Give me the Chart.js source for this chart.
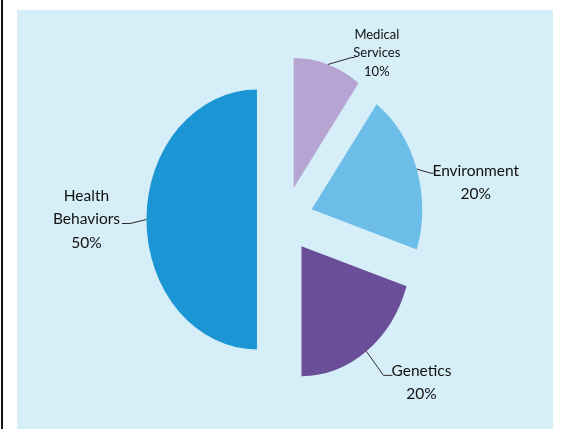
<!DOCTYPE html>
<html>
<head>
<meta charset="utf-8">
<script src="https://cdn.jsdelivr.net/npm/chart.js@4.4.1/dist/chart.umd.min.js"></script>
<style>
  html, body { margin: 0; padding: 0; background: #ffffff; }
  body { width: 564px; height: 429px; position: relative; overflow: hidden; }
  #edge { position: absolute; left: 1px; top: 0; width: 2px; height: 429px; background: #111; }
  #panel { position: absolute; left: 17px; top: 10px; width: 536px; height: 419px; background: #d6eef7; }
  canvas { display: block; }
</style>
</head>
<body>
<div id="edge"></div>
<div id="panel"><canvas id="c" width="536" height="419"></canvas></div>
<script>
// ---- data ----
const categories = ['Medical Services', 'Environment', 'Genetics', 'Health Behaviors'];
const categoryLines = [['Medical', 'Services'], ['Environment'], ['Genetics'], ['Health', 'Behaviors']];
const shares = [10, 20, 20, 50];

// ---- style ----
const colors = ['#b6a4d3', '#6dbde9', '#6a4f98', '#1b95d4'];
const EXPLODE = 33;      // px each slice is pulled out
const SQUISH_X = 0.85;   // horizontal compression of the pie
const labelStyle = [
  // elbow, tail end (relative to leader start on arc edge), text centre, line spacing, font size
  { elbow: [24, -7], tail: [27, -7], text: [49, -30], gap: 18.5, size: 13 },
  { elbow: [14, 4], tail: [17, 4], text: [59, 2], gap: 22.5, size: 15.5 },
  { elbow: [17, 24], tail: [26, 24], text: [55, 20], gap: 23, size: 15.5 },
  { elbow: [-16.5, 4], tail: [-24.5, 4], text: [-60, -24], gap: 23.5, size: 15.5 }
];

function transformFor(arc) {
  const mid = (arc.startAngle + arc.endAngle) / 2;
  return { mid, ex: Math.cos(mid) * EXPLODE, ey: Math.sin(mid) * EXPLODE };
}

const explodePlugin = {
  id: 'explode',
  beforeDatasetsDraw(chart) {
    chart.getDatasetMeta(0).data.forEach((arc) => {
      if (arc._exploded) return;
      const orig = arc.draw.bind(arc);
      arc.draw = function (ctx, area) {
        const t = transformFor(this);
        ctx.save();
        ctx.translate(this.x, this.y);
        ctx.scale(SQUISH_X, 1);
        ctx.translate(-this.x, -this.y);
        ctx.translate(t.ex, t.ey);
        orig(ctx, area);
        ctx.restore();
      };
      arc._exploded = true;
    });
  }
};

const labelPlugin = {
  id: 'pieLabels',
  afterDatasetsDraw(chart) {
    const ctx = chart.ctx;
    const meta = chart.getDatasetMeta(0);
    meta.data.forEach((arc, i) => {
      const t = transformFor(arc);
      const r = arc.outerRadius;
      const sx = arc.x + SQUISH_X * (t.ex + Math.cos(t.mid) * r);
      const sy = arc.y + t.ey + Math.sin(t.mid) * r;
      const st = labelStyle[i];
      ctx.save();
      ctx.strokeStyle = '#2a2a2a';
      ctx.lineWidth = 1;
      ctx.beginPath();
      ctx.moveTo(sx, sy);
      ctx.lineTo(sx + st.elbow[0], sy + st.elbow[1]);
      ctx.lineTo(sx + st.tail[0], sy + st.tail[1]);
      ctx.stroke();
      const lines = categoryLines[i].concat([shares[i] + '%']);
      ctx.fillStyle = '#111111';
      ctx.font = st.size + 'px Lato, "Open Sans", sans-serif';
      ctx.textAlign = 'center';
      ctx.textBaseline = 'middle';
      lines.forEach((ln, k) => {
        ctx.fillText(ln, sx + st.text[0], sy + st.text[1] + k * st.gap);
      });
      ctx.restore();
    });
  }
};

new Chart(document.getElementById('c'), {
  type: 'pie',
  data: {
    labels: categories,
    datasets: [{ data: shares, backgroundColor: colors, borderWidth: 0 }]
  },
  options: {
    responsive: false,
    animation: false,
    radius: 130,
    layout: { padding: 0 },
    plugins: { legend: { display: false }, tooltip: { enabled: false } }
  },
  plugins: [explodePlugin, labelPlugin]
});
</script>
</body>
</html>
